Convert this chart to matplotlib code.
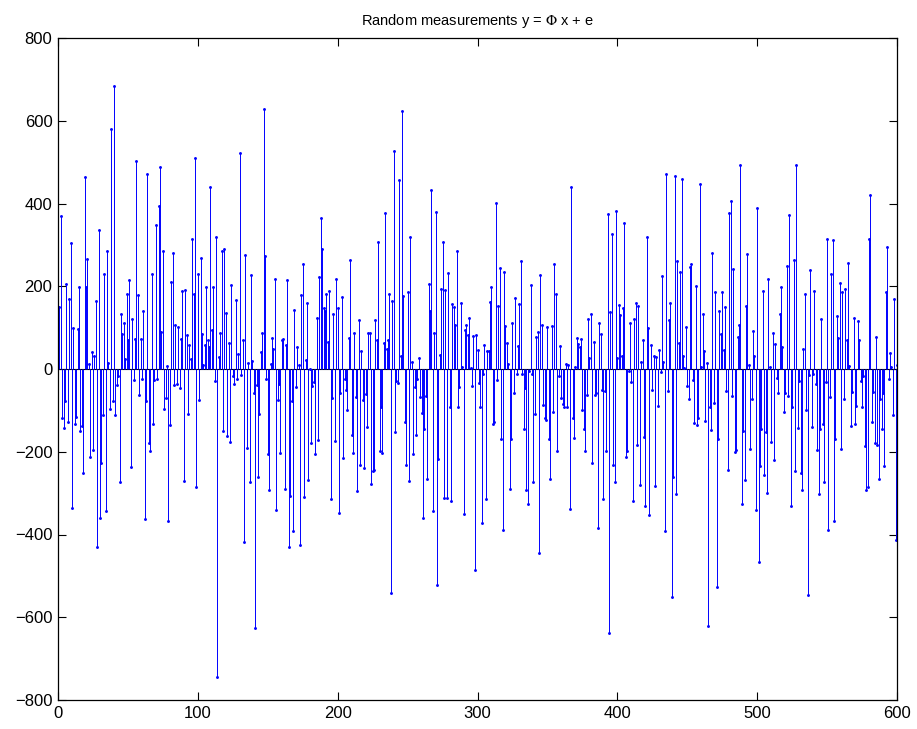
#!/usr/bin/env python3
# stem plot of the random measurements
import matplotlib
matplotlib.use('Agg')
import matplotlib.pyplot as plt

plt.rcParams['font.family'] = ['Liberation Sans', 'DejaVu Sans']
plt.rcParams['mathtext.fontset'] = 'stix'

title = 'Random measurements y = $\\Phi$ x + e'
x_ticks = [0, 100, 200, 300, 400, 500, 600]
y_ticks = [-800, -600, -400, -200, 0, 200, 400, 600, 800]

# values, 100 samples per list
y_001 = [149,370,-119,-143,-77,205,-129,169,304,-336,98,-132,-117,97,197,-149,-138,-251,465,197,
         265,12,-212,41,-195,32,164,-431,335,-361,-228,-110,229,-344,286,15,-96,581,-77,684,
         -110,-39,-18,-273,134,85,111,25,182,71,216,-236,122,-27,73,503,180,-63,73,-24,
         141,-363,-77,472,-179,-197,230,-132,-27,347,-24,394,488,89,284,-96,-71,8,-368,-136,
         210,281,-39,106,-37,102,-46,72,189,-270,192,82,-108,59,23,314,181,509,-285,230]
y_101 = [-75,269,85,10,57,197,69,54,439,94,197,-29,318,-745,30,86,285,-151,291,135,
         -162,63,-176,204,-16,-36,166,-23,37,523,-14,69,-417,275,-191,15,-274,226,20,-59,
         -626,-39,-261,-109,41,87,629,273,-23,-205,-292,11,75,48,218,-340,-75,-37,-204,69,
         73,-290,59,214,-430,-306,-77,-392,143,-44,52,10,-425,179,253,-310,22,160,-268,1,
         -179,-41,-32,-206,123,-172,223,366,290,148,139,181,65,189,-314,-70,133,-173,218,147]
y_201 = [-347,-57,173,-215,-24,-50,-100,76,263,-159,-202,86,-68,-296,119,-233,44,-74,-239,-60,
         -141,88,86,-278,-246,-243,119,69,306,-197,-93,-204,64,378,48,69,182,-542,164,526,
         -153,-30,-35,457,31,624,177,-127,-232,185,-270,318,17,-205,-44,-160,-24,27,-68,-107,
         -361,-145,-66,-266,206,139,433,-342,86,379,-523,-218,35,193,306,-311,190,-311,232,-92,
         -320,156,149,106,284,-93,-44,160,6,-350,95,106,82,124,3,-41,80,-485,83,46]
y_301 = [-35,-93,-371,-12,59,-314,43,43,163,197,-133,-127,402,-27,152,245,-169,-390,235,105,
         62,11,-291,-169,110,-57,171,-13,55,157,260,-13,-146,-46,-293,-326,-6,203,-12,-274,
         -108,77,90,-445,227,106,-86,-118,-124,102,-169,-266,105,-105,254,181,-197,-18,55,-70,
         -85,-93,13,-93,10,-339,439,-118,-166,5,76,60,53,72,-99,-146,-198,-64,121,27,
         134,-226,66,-63,-59,-384,110,84,-50,-313,-52,-198,375,-637,137,327,-233,-272,382,27]
y_401 = [155,130,31,147,352,-212,-197,-5,112,-32,-318,122,160,-183,152,-280,16,71,-165,-330,
         320,99,-353,58,-50,31,-282,28,-89,46,-8,225,18,-392,472,-53,118,160,-550,-260,
         467,-301,261,64,235,460,32,2,101,-41,-72,247,254,-27,-131,201,-136,-118,448,6,
         133,43,-125,15,-621,-91,-147,280,-82,185,-526,-168,139,85,187,46,149,-52,-244,376,
         405,-66,241,-201,-195,77,107,492,-327,-151,-268,152,279,9,-194,-72,91,32,-341,388]
y_501 = [-466,-235,-145,189,-256,-153,-299,218,6,-176,87,-221,60,-21,-57,132,199,54,-103,-59,
         248,-66,371,-330,-91,264,-246,494,-143,-30,-251,-292,48,181,-98,-546,-15,240,-140,-11,
         189,-37,-195,-302,-146,121,-133,-274,-31,313,-390,-68,230,311,-368,-169,127,76,209,-194,
         185,-72,193,69,256,8,-138,-55,123,-132,-90,116,69,-29,-93,-18,-185,-292,-286,313,
         421,-127,-55,-179,78,-184,-267,-73,-146,-59,-234,185,294,-24,39,6,-111,170,-414,10]

y = y_001 + y_101 + y_201 + y_301 + y_401 + y_501
x = list(range(1, len(y) + 1))

fig = plt.figure(figsize=(9.17, 7.29), dpi=100)
ax = fig.add_axes([58 / 917, 1 - 700 / 729, 839 / 917, 662 / 729])

markers, stems, base = ax.stem(x, y, linefmt='b-', markerfmt='b.', basefmt=' ')
stems.set_linewidth(0.7)
markers.set_markersize(4.2)
markers.set_markeredgewidth(0)
ax.axhline(0, color='k', lw=0.8, zorder=1)

ax.set_xlim(0, 600)
ax.set_ylim(-800, 800)
ax.set_xticks(x_ticks)
ax.set_yticks(y_ticks)
ax.tick_params(direction='in', length=6, width=0.8, top=True, right=True, labelsize=12, pad=4)
for s in ax.spines.values():
    s.set_linewidth(0.9)
ax.set_title(title, fontsize=10.5, pad=9)

fig.savefig('out.png', dpi=100)
